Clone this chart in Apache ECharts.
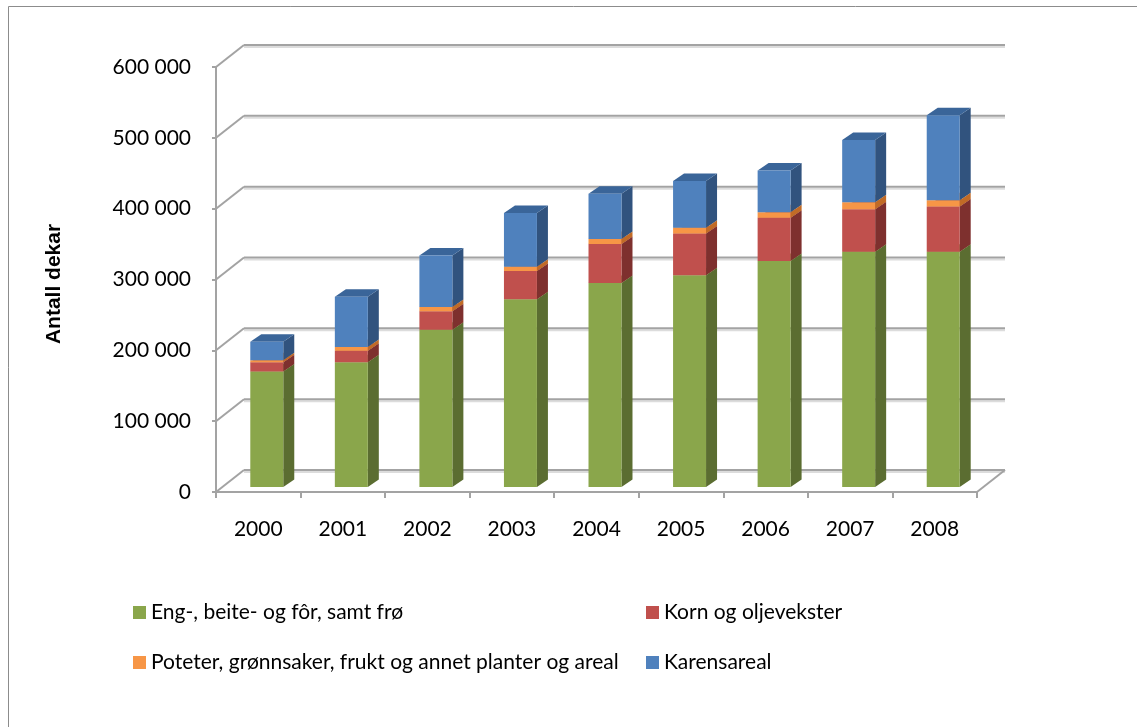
<!DOCTYPE html>
<html>
<head>
<meta charset="utf-8">
<script src="https://cdn.jsdelivr.net/npm/echarts@6/dist/echarts.min.js"></script>
<style>html,body{margin:0;padding:0;background:#fff;}#c{width:1137px;height:727px;}</style>
</head>
<body>
<div id="c"></div>
<script>
// ---- data ----
const years = ['2000','2001','2002','2003','2004','2005','2006','2007','2008'];
const eng = [163000,176000,222000,265000,288000,299000,319000,332000,332000];
const korn = [13000,16500,26000,40000,55000,59000,61000,60000,64000];
const poteter = [3000,5000,6000,6000,7000,8000,8000,10000,9000];
const karens = [26000,71000,73000,76000,64000,66000,59000,88000,120000];
const yTicks = [0,100000,200000,300000,400000,500000,600000];
const seriesNames = ['Eng-, beite- og fôr, samt frø','Korn og oljevekster','Poteter, grønnsaker, frukt og annet planter og areal','Karensareal'];
const axisTitle = 'Antall dekar';

// ---- style ----
const faces = [
  {front:'#8aa64b', side:'#5b6d31', top:'#7b9543'},
  {front:'#c0504d', side:'#7e302e', top:'#a4423f'},
  {front:'#f79646', side:'#c16b26', top:'#f6a05a'},
  {front:'#4f81bd', side:'#31537e', top:'#3a6599'}
];
const WX = 28, WY = -22;      // wall depth
const OFFX = 8.5, OFFY = -5;  // bar front plane offset
const DX = 11, DY = -7.5;     // bar depth
const BWF = 0.39;             // bar width fraction of band
const FONT = 'Lato, "Open Sans", sans-serif';

function fmt(v){ return String(v).replace(/\B(?=(\d{3})+(?!\d))/g, ' '); }

const valuesList = [eng, korn, poteter, karens];
const stacked = [];
const base = years.map(() => 0);
valuesList.forEach((vals, si) => {
  stacked.push(vals.map((v, j) => { const b = base[j]; base[j] += v; return [j, b, b + v]; }));
});

function wallRender(params, api){
  const cs = params.coordSys;
  const v = api.value(1);
  const y = api.coord([0, v])[1];
  const x0 = cs.x, x1 = cs.x + cs.width;
  const lineMain = {stroke:'#a3a3a3', lineWidth:2};
  const lineShadow = {stroke:'#dcdcdc', lineWidth:2};
  const ch = [];
  ch.push({type:'line', shape:{x1:x0+WX, y1:y+WY+2, x2:x1+WX, y2:y+WY+2}, style:lineShadow});
  ch.push({type:'line', shape:{x1:x0, y1:y, x2:x0+WX, y2:y+WY}, style:lineMain});
  ch.push({type:'line', shape:{x1:x0+WX, y1:y+WY, x2:x1+WX, y2:y+WY}, style:lineMain});
  if (v === 0) {
    ch.push({type:'line', shape:{x1:x1, y1:y, x2:x1+WX, y2:y+WY}, style:lineMain});
  }
  return {type:'group', children: ch};
}

function barRender(fc){
  return function(params, api){
    const j = api.value(0), b = api.value(1), t = api.value(2);
    if (t - b <= 0) return null;
    const bw = api.size([1, 0])[0] * BWF;
    const c0 = api.coord([j, b]), c1 = api.coord([j, t]);
    const xl = c0[0] + OFFX - bw / 2, xr = xl + bw;
    const yb = c0[1] + OFFY, yt = c1[1] + OFFY;
    return {type:'group', children:[
      {type:'polygon', shape:{points:[[xr,yt],[xr+DX,yt+DY],[xr+DX,yb+DY],[xr,yb]]}, style:{fill:fc.side}},
      {type:'polygon', shape:{points:[[xl,yt],[xl+DX,yt+DY],[xr+DX,yt+DY],[xr,yt]]}, style:{fill:fc.top}},
      {type:'rect', shape:{x:xl, y:yt, width:bw, height:yb-yt}, style:{fill:fc.front}}
    ]};
  };
}

const series = [{
  type:'custom', name:'walls', z:1, silent:true, clip:false,
  data: yTicks.map(v => [0, v]),
  encode:{x:0, y:1},
  renderItem: wallRender
}];
seriesNames.forEach((n, i) => {
  series.push({
    type:'custom', name:n, z:2, clip:false,
    itemStyle:{color:faces[i].front},
    data: stacked[i],
    encode:{x:0, y:[1,2]},
    renderItem: barRender(faces[i])
  });
});

const chart = echarts.init(document.getElementById('c'), null, {renderer:'canvas'});
chart.setOption({
  animation:false,
  backgroundColor:'#ffffff',
  color: faces.map(f => f.front),
  grid:{left:216, top:67, width:761, height:425, containLabel:false},
  xAxis:{
    type:'category', data:years, boundaryGap:true,
    axisLine:{show:true, lineStyle:{color:'#a3a3a3', width:2}},
    axisTick:{show:true, alignWithLabel:false, length:6, lineStyle:{color:'#a3a3a3', width:2}},
    axisLabel:{color:'#000', fontSize:21, fontFamily:FONT, margin:27},
    splitLine:{show:false}
  },
  yAxis:{
    type:'value', min:0, max:600000, interval:100000,
    axisLine:{show:true, lineStyle:{color:'#a3a3a3', width:2}},
    axisTick:{show:true, length:4, lineStyle:{color:'#a3a3a3', width:2}},
    axisLabel:{color:'#000', fontSize:21, fontFamily:FONT, margin:25, formatter: v => fmt(v)},
    splitLine:{show:false}
  },
  legend:[
    {data:[seriesNames[0], seriesNames[2]], orient:'vertical', left:128, top:597, itemWidth:13, itemHeight:13, itemGap:29, icon:'rect', selectedMode:false,
     textStyle:{color:'#000', fontSize:21, fontFamily:FONT}},
    {data:[seriesNames[1], seriesNames[3]], orient:'vertical', left:641, top:597, itemWidth:13, itemHeight:13, itemGap:29, icon:'rect', selectedMode:false,
     textStyle:{color:'#000', fontSize:21, fontFamily:FONT}}
  ],
  graphic:[
    {type:'rect', silent:true, shape:{x:8.5, y:6.5, width:1200, height:800}, style:{fill:'none', stroke:'#8c8c8c', lineWidth:1}},
    {type:'text', silent:true, x:54, y:284, rotation:Math.PI/2,
     style:{text:axisTitle, fill:'#000', font:'bold 21px "Liberation Sans", Arial, sans-serif', align:'center', verticalAlign:'middle'}}
  ],
  series: series
});
</script>
</body>
</html>
